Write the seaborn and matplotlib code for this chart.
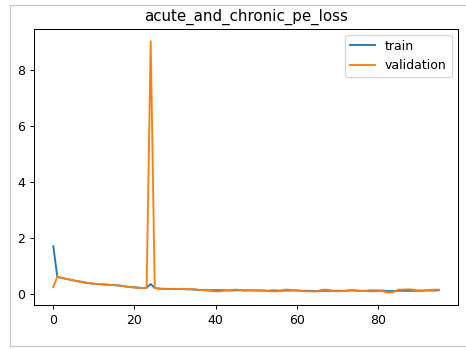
import numpy as np
import pandas as pd
import matplotlib
matplotlib.use("Agg")
import matplotlib.pyplot as plt
from matplotlib.patches import Rectangle
import seaborn as sns

# loss per epoch
train_loss = [
    1.72, 0.62, 0.59, 0.56, 0.53, 0.50, 0.47, 0.45, 0.42, 0.40,
    0.38, 0.37, 0.36, 0.35, 0.34, 0.33, 0.32, 0.30, 0.28, 0.26,
    0.25, 0.24, 0.23, 0.24, 0.37, 0.23, 0.21, 0.20, 0.20, 0.19,
    0.19, 0.19, 0.19, 0.18, 0.18, 0.17, 0.16, 0.16, 0.15, 0.15,
    0.15, 0.15, 0.15, 0.14, 0.14, 0.15, 0.15, 0.14, 0.15, 0.14,
    0.14, 0.14, 0.14, 0.13, 0.14, 0.14, 0.13, 0.14, 0.14, 0.14,
    0.14, 0.13, 0.13, 0.13, 0.12, 0.12, 0.13, 0.13, 0.13, 0.13,
    0.13, 0.13, 0.13, 0.14, 0.14, 0.13, 0.13, 0.13, 0.14, 0.14,
    0.14, 0.14, 0.12, 0.12, 0.12, 0.13, 0.13, 0.13, 0.13, 0.13,
    0.13, 0.13, 0.14, 0.14, 0.14, 0.15,
]
val_loss = [
    0.26, 0.64, 0.60, 0.56, 0.53, 0.50, 0.47, 0.44, 0.42, 0.40,
    0.38, 0.37, 0.36, 0.35, 0.34, 0.33, 0.32, 0.31, 0.28, 0.26,
    0.25, 0.24, 0.23, 0.24, 9.03, 0.23, 0.20, 0.20, 0.19, 0.19,
    0.20, 0.19, 0.20, 0.19, 0.19, 0.18, 0.16, 0.15, 0.14, 0.12,
    0.11, 0.11, 0.13, 0.14, 0.16, 0.17, 0.16, 0.14, 0.14, 0.15,
    0.15, 0.14, 0.13, 0.12, 0.11, 0.11, 0.14, 0.17, 0.17, 0.15,
    0.14, 0.13, 0.11, 0.11, 0.10, 0.11, 0.16, 0.17, 0.16, 0.12,
    0.11, 0.12, 0.13, 0.15, 0.15, 0.14, 0.12, 0.12, 0.11, 0.11,
    0.12, 0.12, 0.08, 0.07, 0.09, 0.17, 0.17, 0.18, 0.18, 0.16,
    0.14, 0.14, 0.15, 0.16, 0.17, 0.17,
]
series_names = ["train", "validation"]
title = "acute_and_chronic_pe_loss"

epochs = np.arange(len(train_loss))
df = pd.DataFrame({
    "epoch": np.concatenate([epochs, epochs]),
    "loss": train_loss + val_loss,
    "series": [series_names[0]] * len(train_loss) + [series_names[1]] * len(val_loss),
})

DPI = 90
fig = plt.figure(figsize=(466 / DPI, 349 / DPI), dpi=DPI)
ax = fig.add_axes([0.073, 0.126, 0.910, 0.792])

sns.lineplot(data=df, x="epoch", y="loss", hue="series",
             palette=["tab:blue", "tab:orange"], linewidth=1.5, ax=ax)

ax.set_title(title)
ax.set_xlabel("")
ax.set_ylabel("")
ax.legend(loc="upper right")

# light frame of the notebook output cell
fig.patches.append(Rectangle((10 / 466, 3 / 349), 1.0, 341 / 349,
                             transform=fig.transFigure, fill=False,
                             edgecolor="#c8c8c8", linewidth=1))

fig.savefig("out.png", dpi=DPI)
